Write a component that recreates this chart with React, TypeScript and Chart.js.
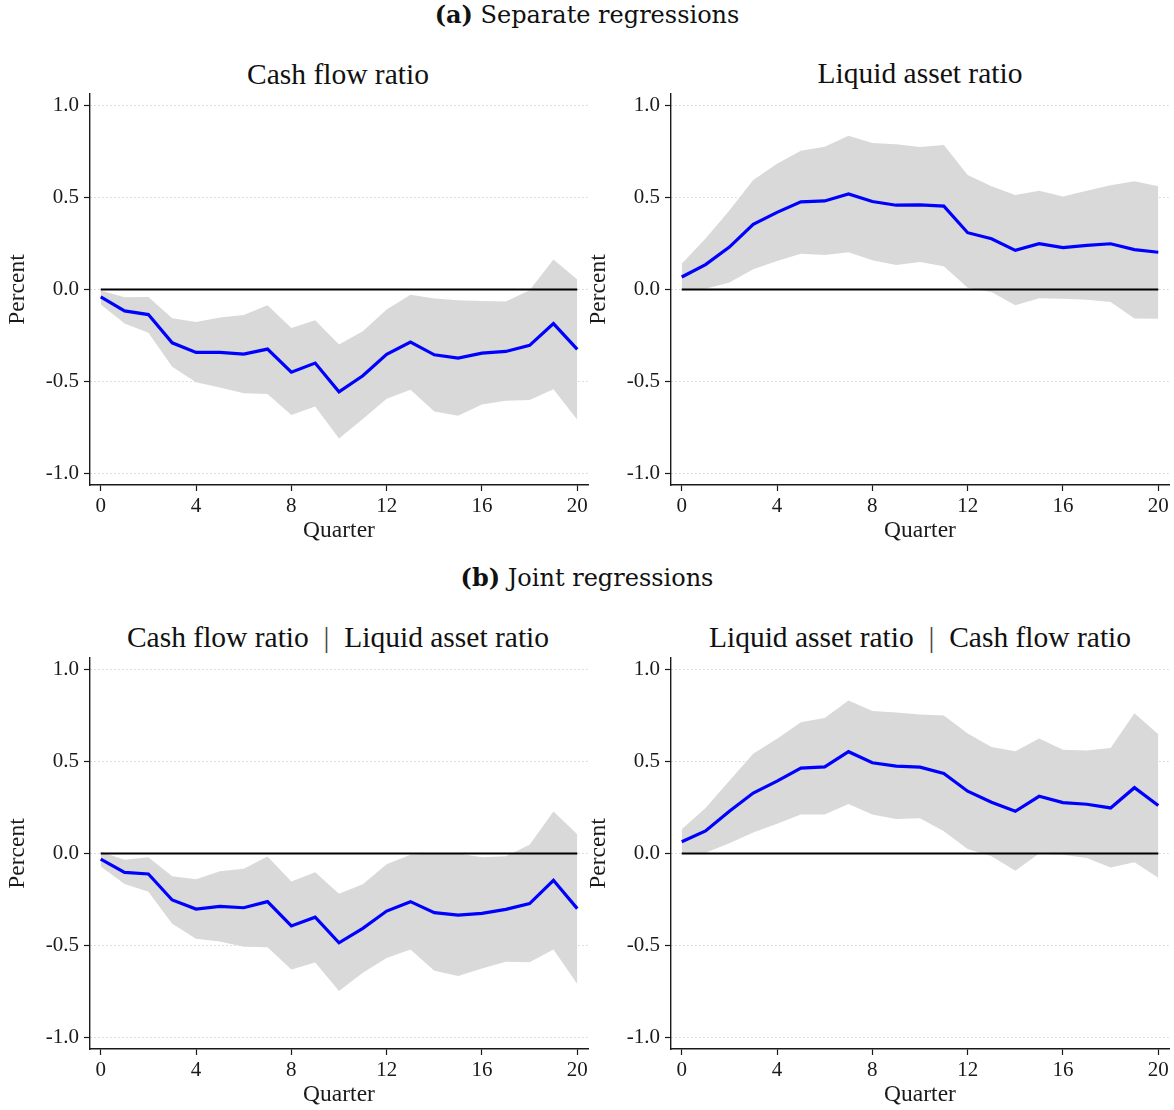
import React, { useEffect, useRef } from "react";
import { Chart, registerables } from "chart.js";

Chart.register(...registerables);

// Horizon (quarters after the shock)
const quarters = [0, 1, 2, 3, 4, 5, 6, 7, 8, 9, 10, 11, 12, 13, 14, 15, 16, 17, 18, 19, 20];
const xTickValues = [0, 4, 8, 12, 16, 20];
const yTickValues = [-1, -0.5, 0, 0.5, 1];

// (a) Separate regressions: cash flow ratio
const cfSepEst = [-0.04, -0.116, -0.136, -0.289, -0.341, -0.341, -0.35, -0.323, -0.448, -0.399, -0.555, -0.468, -0.352, -0.285, -0.354, -0.372, -0.345, -0.336, -0.303, -0.185, -0.325];
const cfSepUpper = [-0.005, -0.042, -0.04, -0.156, -0.176, -0.152, -0.138, -0.085, -0.209, -0.167, -0.298, -0.227, -0.109, -0.029, -0.049, -0.058, -0.062, -0.065, -0.004, 0.163, 0.054];
const cfSepLower = [-0.082, -0.185, -0.234, -0.419, -0.503, -0.532, -0.563, -0.566, -0.681, -0.635, -0.808, -0.702, -0.593, -0.544, -0.662, -0.684, -0.624, -0.603, -0.599, -0.541, -0.706];

// (a) Separate regressions: liquid asset ratio
const laSepEst = [0.068, 0.135, 0.23, 0.353, 0.418, 0.475, 0.48, 0.518, 0.477, 0.457, 0.459, 0.452, 0.308, 0.275, 0.212, 0.248, 0.227, 0.239, 0.248, 0.216, 0.202];
const laSepUpper = [0.139, 0.277, 0.428, 0.594, 0.682, 0.752, 0.774, 0.833, 0.794, 0.787, 0.772, 0.783, 0.621, 0.56, 0.513, 0.536, 0.504, 0.535, 0.565, 0.587, 0.56];
const laSepLower = [0.0, 0.004, 0.038, 0.11, 0.155, 0.194, 0.187, 0.202, 0.158, 0.133, 0.149, 0.126, 0.009, -0.014, -0.085, -0.047, -0.05, -0.056, -0.068, -0.157, -0.158];

// (b) Joint regressions: cash flow ratio | liquid asset ratio
const cfJointEst = [-0.031, -0.102, -0.111, -0.252, -0.301, -0.287, -0.294, -0.261, -0.393, -0.345, -0.484, -0.406, -0.312, -0.261, -0.321, -0.334, -0.325, -0.303, -0.272, -0.145, -0.299];
const cfJointUpper = [0.01, -0.034, -0.02, -0.123, -0.14, -0.096, -0.083, -0.016, -0.152, -0.102, -0.218, -0.167, -0.058, -0.007, 0.002, 0.0, -0.02, -0.015, 0.047, 0.228, 0.105];
const cfJointLower = [-0.071, -0.165, -0.207, -0.381, -0.462, -0.477, -0.506, -0.508, -0.629, -0.591, -0.745, -0.647, -0.566, -0.52, -0.636, -0.664, -0.624, -0.587, -0.589, -0.52, -0.707];

// (b) Joint regressions: liquid asset ratio | cash flow ratio
const laJointEst = [0.064, 0.122, 0.229, 0.328, 0.392, 0.463, 0.47, 0.552, 0.492, 0.474, 0.468, 0.434, 0.338, 0.278, 0.229, 0.31, 0.276, 0.267, 0.247, 0.357, 0.26];
const laJointUpper = [0.132, 0.247, 0.394, 0.541, 0.622, 0.711, 0.735, 0.829, 0.773, 0.764, 0.753, 0.748, 0.65, 0.577, 0.555, 0.624, 0.563, 0.559, 0.572, 0.76, 0.646];
const laJointLower = [0.004, 0.004, 0.056, 0.114, 0.161, 0.212, 0.212, 0.269, 0.212, 0.187, 0.191, 0.12, 0.025, -0.015, -0.093, 0.0, -0.007, -0.025, -0.076, -0.047, -0.132];

const SERIF = "'Liberation Serif', 'Times New Roman', serif";
const HEAD_SERIF = "'DejaVu Serif', serif";
const INK = "#1a1a1a";

type PanelProps = {
  est: number[];
  upper: number[];
  lower: number[];
  left: number;
  top: number;
};

const CANVAS_W = 590;
const CANVAS_H = 455;

function IrfPanel({ est, upper, lower, left, top }: PanelProps) {
  const ref = useRef<HTMLCanvasElement | null>(null);

  useEffect(() => {
    if (!ref.current) return;
    const pts = (vals: number[]) => quarters.map((q, i) => ({ x: q, y: vals[i] }));
    const tickFont = { family: SERIF, size: 21 };
    const titleFont = { family: SERIF, size: 23.5 };
    const chart = new Chart(ref.current, {
      type: "line",
      data: {
        datasets: [
          {
            data: pts(est),
            borderColor: "#0000ff",
            borderWidth: 3.2,
            pointRadius: 0,
            fill: false,
            tension: 0,
          },
          {
            data: [
              { x: 0, y: 0 },
              { x: 20, y: 0 },
            ],
            borderColor: "#000000",
            borderWidth: 2,
            pointRadius: 0,
            fill: false,
          },
          {
            data: pts(upper),
            borderWidth: 0,
            borderColor: "rgba(0,0,0,0)",
            backgroundColor: "#d9d9d9",
            pointRadius: 0,
            fill: "+1",
          },
          {
            data: pts(lower),
            borderWidth: 0,
            borderColor: "rgba(0,0,0,0)",
            pointRadius: 0,
            fill: false,
          },
        ],
      },
      options: {
        animation: false,
        responsive: false,
        events: [],
        plugins: { legend: { display: false }, tooltip: { enabled: false } },
        layout: { padding: { top: 4, right: 2, left: 0, bottom: 0 } },
        scales: {
          x: {
            type: "linear",
            min: -0.45,
            max: 20.45,
            afterBuildTicks: (s: any) => {
              s.ticks = xTickValues.map((v) => ({ value: v }));
            },
            afterFit: (s: any) => {
              s.height = 60;
              s.paddingLeft = 0;
              s.paddingRight = 0;
            },
            grid: { drawOnChartArea: false, tickLength: 6, tickColor: INK, tickWidth: 1.2 },
            border: { color: INK, width: 1.4 },
            ticks: { font: tickFont, color: INK, padding: 3, maxRotation: 0, autoSkip: false },
            title: { display: true, text: "Quarter", font: titleFont, color: INK, padding: { top: 0, bottom: 0 } },
          },
          y: {
            type: "linear",
            min: -1.06,
            max: 1.06,
            afterBuildTicks: (s: any) => {
              s.ticks = yTickValues.map((v) => ({ value: v }));
            },
            afterFit: (s: any) => {
              s.width = 90;
              s.paddingTop = 0;
              s.paddingBottom = 0;
            },
            grid: {
              color: "#bdbdbd",
              lineWidth: 1,
              tickLength: 6,
              tickColor: INK,
              tickWidth: 1.2,
              tickBorderDash: [],
            } as any,
            border: { color: INK, width: 1.4, dash: [1, 3] },
            ticks: {
              font: tickFont,
              color: INK,
              padding: 5,
              callback: (v: any) => Number(v).toFixed(1),
            },
            title: { display: true, text: "Percent", font: titleFont, color: INK, padding: { top: 4, bottom: 0 } },
          },
        },
      },
    });
    return () => chart.destroy();
  }, [est, upper, lower]);

  return (
    <canvas
      ref={ref}
      width={CANVAS_W}
      height={CANVAS_H}
      style={{ position: "absolute", left, top, width: CANVAS_W, height: CANVAS_H }}
    />
  );
}

function Heading({
  x,
  y,
  children,
  size,
  family,
}: {
  x: number;
  y: number;
  children: React.ReactNode;
  size: number;
  family: string;
}) {
  return (
    <div
      style={{
        position: "absolute",
        left: x - 400,
        top: y - size * 0.6,
        width: 800,
        textAlign: "center",
        fontFamily: family,
        fontSize: size,
        lineHeight: `${size * 1.2}px`,
        color: "#111",
        whiteSpace: "pre",
      }}
    >
      {children}
    </div>
  );
}

// Conditioning bar with wider spacing, as in the typeset titles
const Bar = () => <span style={{ color: "#444" }}>{"\u2002|\u2002"}</span>;

export default function App() {
  return (
    <div
      style={{
        position: "fixed",
        left: 0,
        top: 0,
        width: 1174,
        height: 1110,
        background: "#ffffff",
        overflow: "hidden",
      }}
    >
      <Heading x={587} y={15} size={24} family={HEAD_SERIF}>
        <b>(a)</b> Separate regressions
      </Heading>
      <Heading x={338} y={75} size={29.5} family={SERIF}>
        Cash flow ratio
      </Heading>
      <Heading x={920} y={74} size={29.5} family={SERIF}>
        Liquid asset ratio
      </Heading>
      <IrfPanel est={cfSepEst} upper={cfSepUpper} lower={cfSepLower} left={0} top={90} />
      <IrfPanel est={laSepEst} upper={laSepUpper} lower={laSepLower} left={581} top={90} />

      <Heading x={587} y={578} size={24} family={HEAD_SERIF}>
        <b>(b)</b> Joint regressions
      </Heading>
      <Heading x={338} y={638} size={29.5} family={SERIF}>
        Cash flow ratio<Bar />Liquid asset ratio
      </Heading>
      <Heading x={920} y={638} size={29.5} family={SERIF}>
        Liquid asset ratio<Bar />Cash flow ratio
      </Heading>
      <IrfPanel est={cfJointEst} upper={cfJointUpper} lower={cfJointLower} left={0} top={654} />
      <IrfPanel est={laJointEst} upper={laJointUpper} lower={laJointLower} left={581} top={654} />
    </div>
  );
}
